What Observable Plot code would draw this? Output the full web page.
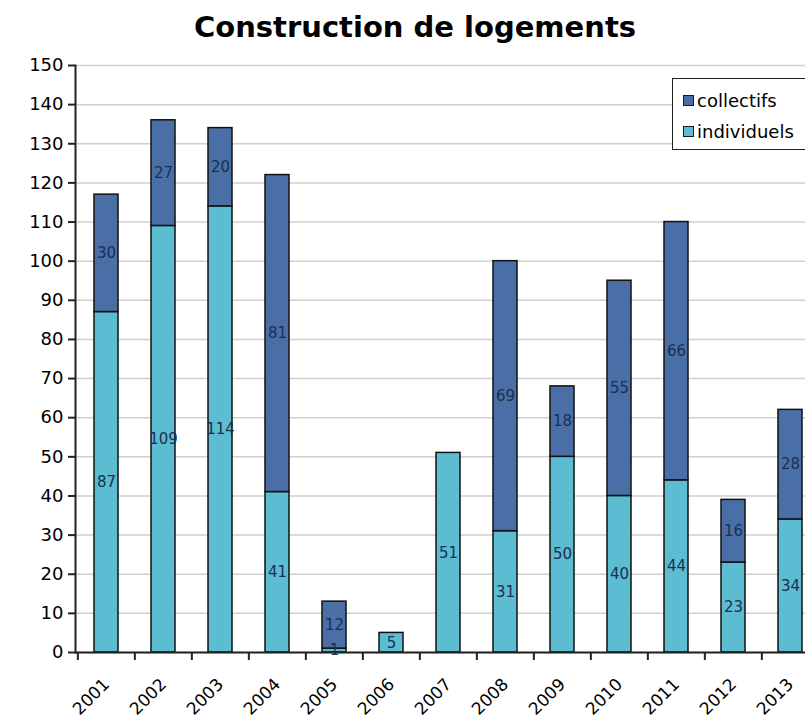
<!DOCTYPE html>
<html><head><meta charset="utf-8">
<script src="https://cdn.jsdelivr.net/npm/d3@7"></script>
<script src="https://cdn.jsdelivr.net/npm/@observablehq/plot@0.6"></script>
<style>
html,body{margin:0;padding:0;background:#fff;}
body{width:805px;height:721px;overflow:hidden;font-family:"DejaVu Sans",Verdana,sans-serif;}
#wrap{position:relative;width:830px;}
#title{height:50px;box-sizing:border-box;padding-top:10px;text-align:center;font-size:29px;font-weight:bold;line-height:34px;color:#000;}
#legend{position:absolute;left:672px;top:78px;width:150px;height:72px;box-sizing:border-box;border:1.5px solid #222;background:#fff;padding:6px 0 0 10px;}
.item{display:flex;align-items:center;height:31px;font-size:18px;color:#000;}
.sw{width:9px;height:9px;border:1.5px solid #1a1a1a;margin-right:3px;}
</style></head>
<body>
<div id="wrap">
<div id="title">Construction de logements</div>
<div id="chart"></div>
<div id="legend"></div>
</div>
<script>
const years = ["2001","2002","2003","2004","2005","2006","2007","2008","2009","2010","2011","2012","2013"];
const individuels = [87,109,114,41,1,5,51,31,50,40,44,23,34];
const collectifs = [30,27,20,81,12,0,0,69,18,55,66,16,28];
const seriesNames = ["individuels","collectifs"];
const seriesColors = ["#5cbcd2","#4a6fa6"];
const yTicks = d3.range(0, 151, 10);

const rows = [];
years.forEach((y, i) => {
  rows.push({year: y, type: "individuels", value: individuels[i]});
  rows.push({year: y, type: "collectifs", value: collectifs[i]});
});

const W = 830, ML = 75, MR = 10;
const step = (W - ML - MR) / years.length;

const chart = Plot.plot({
  width: W,
  height: 668,
  marginLeft: ML,
  marginRight: MR,
  marginTop: 15,
  marginBottom: 66,
  style: {fontFamily: '"DejaVu Sans", Verdana, sans-serif', background: "#fff", color: "#000", overflow: "visible"},
  x: {type: "band", domain: years, paddingInner: 0.58, paddingOuter: 0.29, label: null},
  y: {domain: [0, 150], label: null},
  color: {domain: seriesNames, range: seriesColors},
  marks: [
    Plot.gridY(yTicks, {stroke: "#cfcfcf", strokeOpacity: 1, strokeWidth: 1.5}),
    Plot.barY(rows, Plot.stackY({x: "year", y: "value", z: "type", fill: "type", stroke: "#111", strokeWidth: 1.5, order: seriesNames})),
    Plot.text(rows, Plot.stackY({filter: d => d.value > 0, x: "year", y: "value", z: "type", text: d => String(d.value), order: seriesNames, fill: "#1a3050", fontSize: 15})),
    Plot.frame({anchor: "left", stroke: "#222", strokeWidth: 2}),
    Plot.ruleY([0], {stroke: "#222", strokeWidth: 2}),
    Plot.axisY({ticks: yTicks, tickSize: 7, tickPadding: 5, fontSize: 18, strokeWidth: 2, stroke: "#222", label: null}),
    Plot.axisX({tickSize: 8, text: null, dx: -step / 2, strokeWidth: 2, stroke: "#222", label: null}),
    Plot.axisX({tickSize: 0, tickPadding: 29, tickRotate: -45, fontSize: 17, label: null})
  ]
});
document.getElementById("chart").appendChild(chart);

const legend = document.getElementById("legend");
["collectifs","individuels"].forEach(name => {
  const it = document.createElement("div");
  it.className = "item";
  const sw = document.createElement("div");
  sw.className = "sw";
  sw.style.background = seriesColors[seriesNames.indexOf(name)];
  const t = document.createElement("span");
  t.textContent = name;
  it.appendChild(sw); it.appendChild(t);
  legend.appendChild(it);
});
</script>
</body></html>
